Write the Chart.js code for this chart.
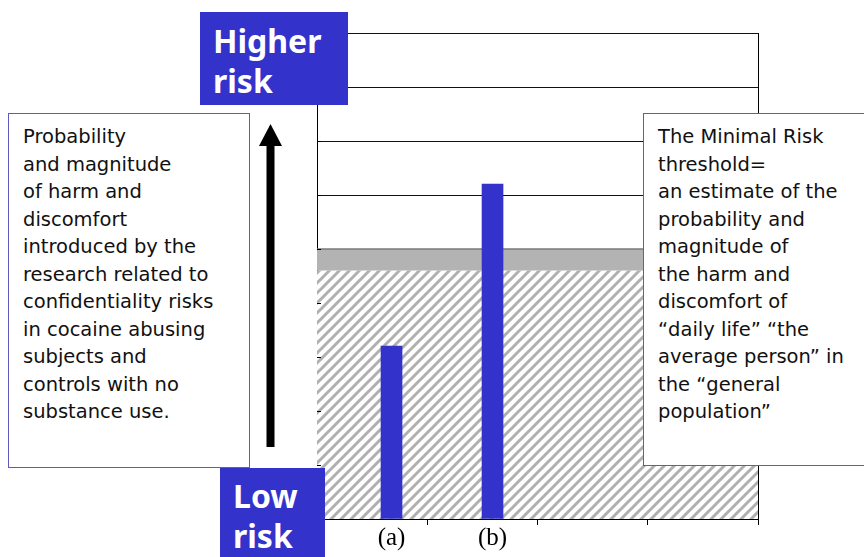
<!DOCTYPE html>
<html>
<head>
<meta charset="utf-8">
<script src="https://cdn.jsdelivr.net/npm/chart.js@4"></script>
<style>
  html, body { margin: 0; padding: 0; background: #fff; }
  #wrap { position: relative; width: 864px; height: 557px; overflow: hidden; }
  #chart { position: absolute; left: 0; top: 0; }
  .tag {
    position: absolute; background: #3333cc; color: #fff;
    font-family: 'Noto Sans', sans-serif; font-weight: bold;
    font-size: 32px; line-height: 40px; padding-left: 13px; box-sizing: border-box;
  }
  .note {
    position: absolute; background: #fff; border: 1px solid #5b5bc0;
    font-family: 'DejaVu Sans', sans-serif; font-size: 19.5px; line-height: 27.5px;
    color: #111; box-sizing: border-box; white-space: pre;
  }
  #arrow { position: absolute; left: 0; top: 0; }
</style>
</head>
<body>
<div id="wrap">
  <canvas id="chart" width="864" height="557"></canvas>
  <svg id="arrow" width="864" height="557">
    <rect x="266.5" y="144" width="8" height="303" fill="#000"></rect>
    <polygon points="270.5,124 259,146 282,146" fill="#000"></polygon>
  </svg>
  <div class="tag" style="left:200px; top:12px; width:148px; height:93px; padding-top:9px;">Higher<br>risk</div>
  <div class="tag" style="left:220px; top:468px; width:105px; height:89px; padding-top:8px;">Low<br>risk</div>
  <div class="note" style="left:8px; top:113px; width:242px; height:355px; padding:9px 0 0 14px;">Probability
and magnitude
of harm and
discomfort
introduced by the
research related to
confidentiality risks
in cocaine abusing
subjects and
controls with no
substance use.</div>
  <div class="note" style="left:643px; top:113px; width:240px; height:353px; padding:9px 0 0 14px;">The Minimal Risk
threshold=
an estimate of the
probability and
magnitude of
the harm and
discomfort of
“daily life” “the
average person” in
the “general
population”</div>
</div>
<script>
// data
const barLabels = ['(a)', '(b)'];
const barPositions = [0.676, 1.592];
const barValues = [3.2, 6.2];
const hatchTop = 4.6;      // top of the hatched "daily life" block
const thresholdTop = 5;    // minimal risk threshold (grey band)
const areaStart = 0;
const areaEnd = 4;
const xTickValues = [0, 1, 2, 3, 4];
const yMax = 9;

// hatch pattern for the minimal risk block
function makeHatch() {
    const s = 10;
    const c = document.createElement('canvas');
    c.width = s;
    c.height = s;
    const g = c.getContext('2d');
    g.fillStyle = '#fff';
    g.fillRect(0, 0, s, s);
    g.strokeStyle = '#b0b0b0';
    g.lineWidth = 3;
    g.beginPath();
    g.moveTo(-2, s + 2); g.lineTo(s + 2, -2);
    g.moveTo(-s - 2, s + 2 - s); g.lineTo(2, -s - 2 + s - s);
    g.moveTo(-2, 2 * s + 2); g.lineTo(2 * s + 2, -2);
    g.moveTo(-s, s); g.lineTo(s, -s);
    g.stroke();
    return g.createPattern(c, 'repeat');
}

// labels under the bars
const barLabelPlugin = {
    id: 'barLabels',
    afterDraw(chart) {
        const ctx = chart.ctx;
        const meta = chart.getDatasetMeta(2);
        const bottom = chart.scales.x.bottom;
        ctx.save();
        ctx.fillStyle = '#000';
        ctx.font = '25px "Liberation Serif", serif';
        ctx.textAlign = 'center';
        ctx.textBaseline = 'alphabetic';
        meta.data.forEach((bar, i) => {
            ctx.fillText(barLabels[i], bar.x, bottom + 20);
        });
        ctx.restore();
    }
};

// small inward tick marks on the y axis
const innerTicksPlugin = {
    id: 'innerTicks',
    afterDatasetsDraw(chart) {
        const ctx = chart.ctx;
        const y = chart.scales.y;
        ctx.save();
        ctx.strokeStyle = '#000';
        ctx.lineWidth = 1;
        y.ticks.forEach(t => {
            const py = Math.round(y.getPixelForValue(t.value)) + 0.5;
            ctx.beginPath();
            ctx.moveTo(y.right, py);
            ctx.lineTo(y.right + 4, py);
            ctx.stroke();
        });
        ctx.restore();
    }
};

const ctx = document.getElementById('chart').getContext('2d');
new Chart(ctx, {
    type: 'bar',
    data: {
        datasets: [
            {
                type: 'line',
                data: [{ x: areaStart, y: hatchTop }, { x: areaEnd, y: hatchTop }],
                backgroundColor: makeHatch(),
                borderWidth: 0,
                pointRadius: 0,
                fill: 'origin',
                order: 3
            },
            {
                type: 'line',
                data: [{ x: areaStart, y: thresholdTop }, { x: areaEnd, y: thresholdTop }],
                backgroundColor: '#b3b3b3',
                borderColor: '#7a7a7a',
                borderWidth: 1.5,
                pointRadius: 0,
                fill: '-1',
                order: 2
            },
            {
                type: 'bar',
                data: barPositions.map((x, i) => ({ x: x, y: barValues[i] })),
                backgroundColor: '#3333cc',
                barThickness: 21,
                order: 1
            }
        ]
    },
    options: {
        responsive: false,
        animation: false,
        layout: { padding: { left: 317, right: 106, top: 33, bottom: 32 } },
        plugins: {
            legend: { display: false },
            tooltip: { enabled: false }
        },
        scales: {
            x: {
                type: 'linear',
                min: areaStart,
                max: areaEnd,
                offset: false,
                afterBuildTicks: (scale) => {
                    scale.ticks = xTickValues.map(v => ({ value: v }));
                },
                ticks: { display: false },
                grid: {
                    offset: false,
                    color: (c) => (c.tick && c.tick.value === areaEnd ? '#000' : 'rgba(0,0,0,0)'),
                    tickColor: (c) => (c.tick && c.tick.value === areaStart ? 'rgba(0,0,0,0)' : '#000'),
                    tickLength: 6,
                    lineWidth: 1
                },
                border: { color: '#000', width: 1 }
            },
            y: {
                min: 0,
                max: yMax,
                ticks: { display: false, stepSize: 1 },
                grid: { color: '#111', lineWidth: 1, drawTicks: false },
                border: { color: '#000', width: 1 }
            }
        }
    },
    plugins: [barLabelPlugin, innerTicksPlugin]
});
</script>
</body>
</html>
